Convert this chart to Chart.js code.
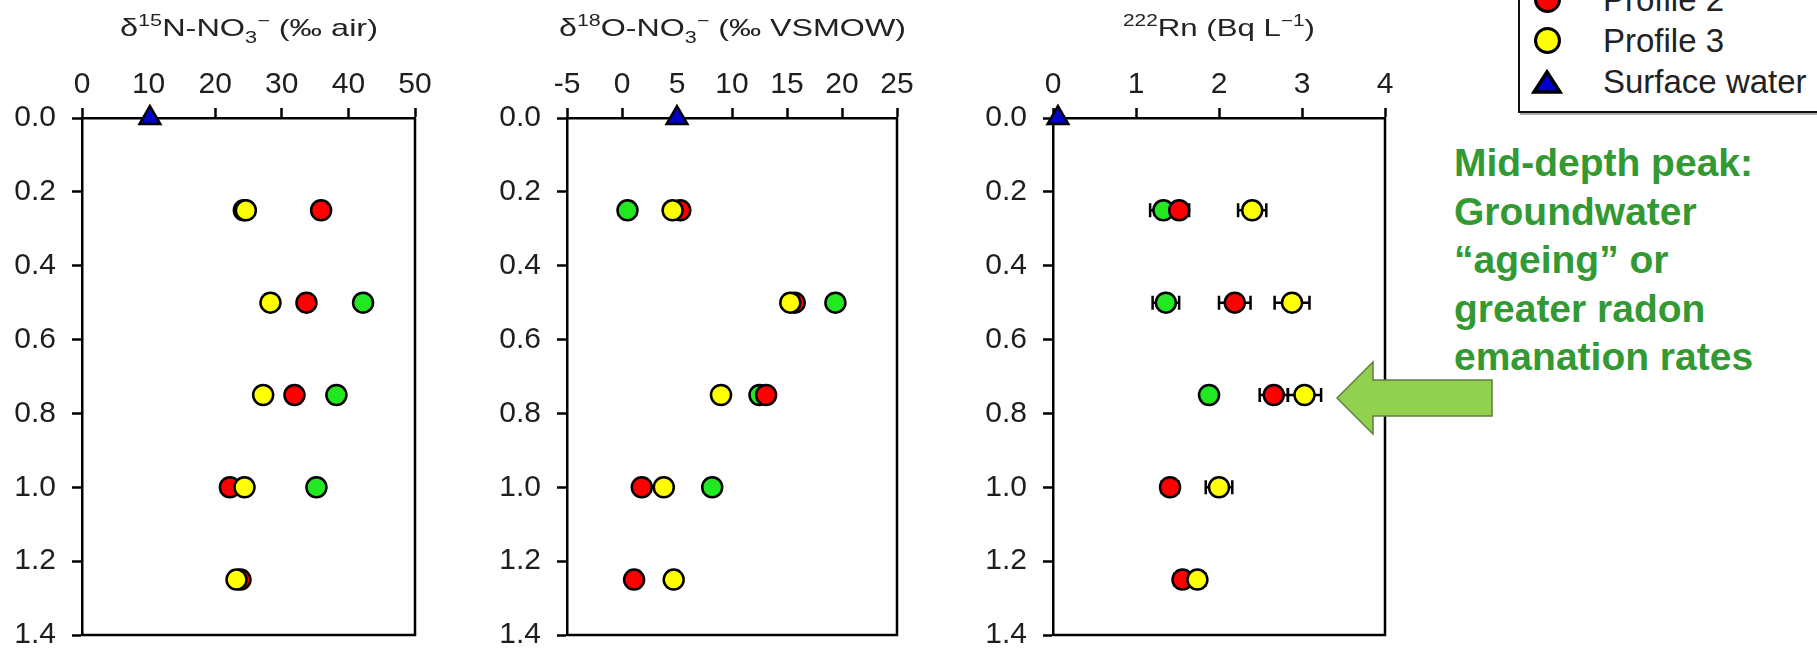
<!DOCTYPE html>
<html>
<head>
<meta charset="utf-8">
<script src="https://cdn.jsdelivr.net/npm/chart.js@4.4.1/dist/chart.umd.min.js"></script>
<style>
    body { margin: 0; width: 1817px; height: 650px; overflow: hidden; background: #fff; position: relative;
           font-family: "Liberation Sans", Arial, sans-serif; }
    canvas.panneau { position: absolute; top: 0; }
    .titre { position: absolute; top: 14px; white-space: nowrap; font-size: 24px; line-height: 28px; color: #222;
             transform-origin: 0 0; }
    .titre sup, .titre sub { font-size: 16px; line-height: 0; position: relative; vertical-align: baseline; }
    .titre sup { top: -0.6em; }
    .titre sub { top: 0.45em; }
    #legende { position: absolute; left: 1518px; top: -68px; width: 320px; padding: 4px 0 9px 0;
               border: 2px solid #111; background: #fff; box-shadow: 2px 2px 0 #aaa; }
    .ligneLegende { display: flex; align-items: center; height: 41px; font-size: 33px; color: #222; }
    .symbole { width: 54px; display: flex; justify-content: center; align-items: center; margin-right: 29px; }
    .rond { width: 21px; height: 21px; border: 3.5px solid #000; border-radius: 50%; }
    #note { position: absolute; left: 1454px; top: 139px; font-size: 39px; line-height: 48.5px; font-weight: bold;
            color: #339933; white-space: nowrap; }
    #fleche { position: absolute; left: 0; top: 0; }
</style>
</head>
<body>

<canvas id="GraphiqueAzote" class="panneau"></canvas>
<canvas id="GraphiqueOxygene" class="panneau"></canvas>
<canvas id="GraphiqueRadon" class="panneau"></canvas>

<div class="titre" id="titre0">δ<sup>15</sup>N-NO<sub>3</sub><sup>−</sup> (‰ air)</div>
<div class="titre" id="titre1">δ<sup>18</sup>O-NO<sub>3</sub><sup>−</sup> (‰ VSMOW)</div>
<div class="titre" id="titre2"><sup>222</sup>Rn (Bq L<sup>−1</sup>)</div>

<div id="legende"></div>

<div id="note">Mid-depth peak:<br>Groundwater<br>“ageing” or<br>greater radon<br>emanation rates</div>

<svg id="fleche" width="1817" height="650">
    <polygon points="1337,398 1373,362 1373,380 1492,380 1492,416 1373,416 1373,434"
             fill="#92d050" stroke="#5f7f3f" stroke-width="1.5"/>
</svg>

<script>
// profondeurs (m) des echantillons
var profondeurs = [0.25, 0.5, 0.75, 1.0, 1.25];
var nomsSeries = ['Profile 1', 'Profile 2', 'Profile 3', 'Surface water'];
var couleursSeries = ['#22e822', '#ff0000', '#ffff00', '#0000cc'];

// delta 15N-NO3 (permil air)
var azoteProfil1 = [24.3, 42.2, 38.2, 35.2, null];
var azoteProfil2 = [35.9, 33.7, 31.9, 22.2, 23.8];
var azoteProfil3 = [24.6, 28.3, 27.2, 24.4, 23.2];
var azoteSurface = 10.2;

// delta 18O-NO3 (permil VSMOW)
var oxygeneProfil1 = [0.5, 19.4, 12.5, 8.2, null];
var oxygeneProfil2 = [5.3, 15.7, 13.1, 1.8, 1.1];
var oxygeneProfil3 = [4.6, 15.3, 9.0, 3.8, 4.7];
var oxygeneSurface = 5.0;

// 222Rn (Bq/L) et incertitudes
var radonProfil1 = [1.33, 1.36, 1.88, null, null];
var radonProfil2 = [1.52, 2.19, 2.66, 1.41, 1.56];
var radonProfil3 = [2.4, 2.88, 3.03, 2.0, 1.74];
var radonSurface = 0.06;
var radonErreur1 = [0.16, 0.16, 0.08, null, null];
var radonErreur2 = [0.12, 0.19, 0.17, 0.1, 0.1];
var radonErreur3 = [0.17, 0.21, 0.2, 0.16, 0.1];

// ticks des axes x : min, max, pas
var ticksAzote = [0, 50, 10];
var ticksOxygene = [-5, 25, 5];
var ticksRadon = [0, 4, 1];

// position des zones de trace (gauche, droite) dans la page
var zones = [[82, 415], [567, 897], [1053, 1385]];
var largeursTitres = [258, 347, 192];

var policeTicks = { family: '"Liberation Sans", Arial, sans-serif', size: 30 };

function GetPoints(valeurs) {
    var points = [];
    var i = 0;
    while (i < valeurs.length) {
        if (valeurs[i] !== null) {
            points.push({ x: valeurs[i], y: profondeurs[i] });
        }
        i++;
    }
    return points;
}

// barres d'erreur horizontales (radon)
var pluginErreurs = {
    id: 'barresErreur',
    beforeDatasetsDraw: function (chart) {
        var ctx = chart.ctx;
        var sx = chart.scales.x;
        var sy = chart.scales.y;
        ctx.save();
        ctx.strokeStyle = '#000';
        ctx.lineWidth = 2.5;
        chart.data.datasets.forEach(function (ds) {
            if (!ds.erreurs) return;
            var i = 0;
            while (i < ds.valeurs.length) {
                var v = ds.valeurs[i];
                var e = ds.erreurs[i];
                if (v !== null && e) {
                    var y = sy.getPixelForValue(profondeurs[i]);
                    var x1 = sx.getPixelForValue(v - e);
                    var x2 = sx.getPixelForValue(v + e);
                    ctx.beginPath();
                    ctx.moveTo(x1, y); ctx.lineTo(x2, y);
                    ctx.moveTo(x1, y - 7); ctx.lineTo(x1, y + 7);
                    ctx.moveTo(x2, y - 7); ctx.lineTo(x2, y + 7);
                    ctx.stroke();
                }
                i++;
            }
        });
        ctx.restore();
    }
};

// cadre droite / bas
var pluginCadre = {
    id: 'cadre',
    afterDraw: function (chart) {
        var a = chart.chartArea;
        var ctx = chart.ctx;
        ctx.save();
        ctx.strokeStyle = '#000';
        ctx.lineWidth = 2.5;
        ctx.beginPath();
        ctx.moveTo(a.left, a.bottom);
        ctx.lineTo(a.right, a.bottom);
        ctx.lineTo(a.right, a.top);
        ctx.stroke();
        ctx.restore();
    }
};

function CreerPanneau(idCanvas, numero, ticksX, profils, surface, erreurs) {
    var gauche = zones[numero][0];
    var droite = zones[numero][1];
    var canvas = document.getElementById(idCanvas);
    canvas.width = 82 + (droite - gauche) + 30;
    canvas.height = 650;
    canvas.style.left = (gauche - 82) + 'px';

    var datasets = [];
    var k = 0;
    while (k < 3) {
        datasets.push({
            label: nomsSeries[k],
            data: GetPoints(profils[k]),
            valeurs: profils[k],
            erreurs: erreurs ? erreurs[k] : null,
            pointStyle: 'circle',
            pointRadius: 10,
            pointHoverRadius: 10,
            pointBorderWidth: 2.5,
            pointBorderColor: '#000',
            pointBackgroundColor: couleursSeries[k],
            showLine: false,
            clip: false,
            order: 4 - k
        });
        k++;
    }
    datasets.push({
        label: nomsSeries[3],
        data: [{ x: surface, y: 0 }],
        pointStyle: 'triangle',
        pointRadius: 12,
        pointHoverRadius: 12,
        pointBorderWidth: 2.5,
        pointBorderColor: '#000',
        pointBackgroundColor: couleursSeries[3],
        showLine: false,
        clip: false,
        order: 0
    });

    var grille = { drawOnChartArea: false, drawTicks: true, tickLength: 10, tickWidth: 2.5, tickColor: '#000' };
    var bord = { display: true, color: '#000', width: 2.5 };

    return new Chart(canvas.getContext('2d'), {
        type: 'scatter',
        data: { datasets: datasets },
        options: {
            responsive: false,
            animation: false,
            events: [],
            layout: { padding: { left: 0, right: 30, top: 0, bottom: 15 } },
            plugins: { legend: { display: false }, tooltip: { enabled: false } },
            scales: {
                x: {
                    type: 'linear',
                    position: 'top',
                    min: ticksX[0],
                    max: ticksX[1],
                    ticks: { stepSize: ticksX[2], font: policeTicks, color: '#1e1e1e', padding: 5,
                             maxRotation: 0, autoSkip: false },
                    grid: grille,
                    border: bord,
                    afterFit: function (s) { s.height = 118; s.paddingLeft = 0; s.paddingRight = 0; }
                },
                y: {
                    type: 'linear',
                    reverse: true,
                    min: 0,
                    max: 1.4,
                    ticks: { stepSize: 0.2, font: policeTicks, color: '#1e1e1e', padding: 16, autoSkip: false,
                             callback: function (v) { return v.toFixed(1); } },
                    grid: grille,
                    border: bord,
                    afterFit: function (s) { s.width = 82; s.paddingTop = 0; s.paddingBottom = 0; }
                }
            }
        },
        plugins: [pluginErreurs, pluginCadre]
    });
}

CreerPanneau('GraphiqueAzote', 0, ticksAzote, [azoteProfil1, azoteProfil2, azoteProfil3], azoteSurface, null);
CreerPanneau('GraphiqueOxygene', 1, ticksOxygene, [oxygeneProfil1, oxygeneProfil2, oxygeneProfil3], oxygeneSurface, null);
CreerPanneau('GraphiqueRadon', 2, ticksRadon, [radonProfil1, radonProfil2, radonProfil3], radonSurface,
    [radonErreur1, radonErreur2, radonErreur3]);

// titres centres au-dessus des panneaux
var n = 0;
while (n < 3) {
    var t = document.getElementById('titre' + n);
    var naturel = t.getBoundingClientRect().width;
    var centre = (zones[n][0] + zones[n][1]) / 2;
    t.style.left = (centre - largeursTitres[n] / 2) + 'px';
    t.style.transform = 'scaleX(' + (largeursTitres[n] / naturel) + ')';
    n++;
}

// legende
var legende = document.getElementById('legende');
var j = 0;
while (j < nomsSeries.length) {
    var ligne = document.createElement('div');
    ligne.className = 'ligneLegende';
    var symbole = document.createElement('div');
    symbole.className = 'symbole';
    if (j < 3) {
        symbole.innerHTML = '<div class="rond" style="background:' + couleursSeries[j] + '"></div>';
    } else {
        symbole.innerHTML = '<svg width="32" height="26"><polygon points="16,3 29,23 3,23" fill="' +
            couleursSeries[j] + '" stroke="#000" stroke-width="3.5" stroke-linejoin="miter"/></svg>';
    }
    var texte = document.createElement('span');
    texte.textContent = nomsSeries[j];
    ligne.appendChild(symbole);
    ligne.appendChild(texte);
    legende.appendChild(ligne);
    j++;
}
</script>
</body>
</html>
